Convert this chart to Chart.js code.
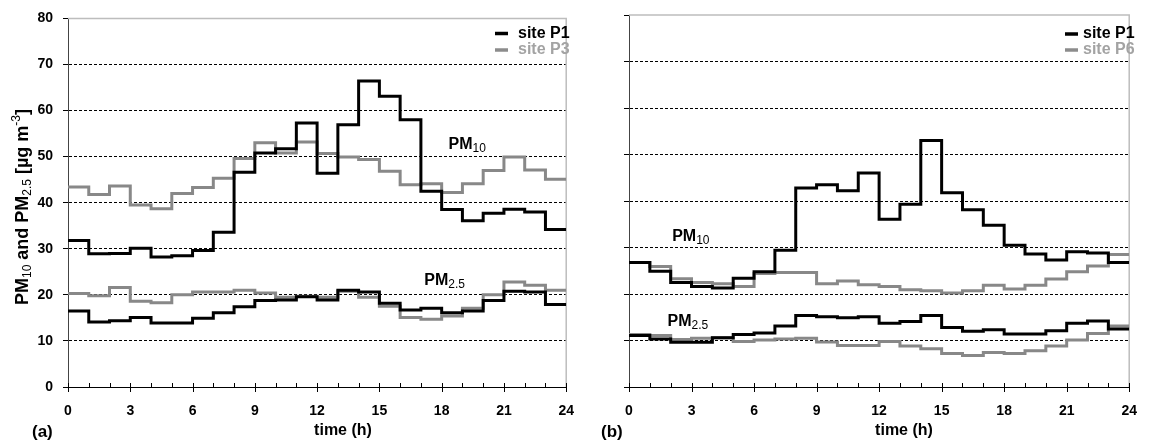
<!DOCTYPE html>
<html>
<head>
<meta charset="utf-8">
<script src="https://cdn.jsdelivr.net/npm/chart.js@4.4.0/dist/chart.umd.min.js"></script>
<style>
  body { margin: 0; background: #fff; width: 1153px; height: 445px; overflow: hidden; position: relative; }
  canvas { position: absolute; top: 0; }
  #chartA { left: 0; }
  #chartB { left: 590px; }
</style>
</head>
<body>
<canvas id="chartA" width="590" height="445"></canvas>
<canvas id="chartB" width="563" height="445"></canvas>
<script>
// hour marks (0..24) and tick values
const hours = [0, 1, 2, 3, 4, 5, 6, 7, 8, 9, 10, 11, 12, 13, 14, 15, 16, 17, 18, 19, 20, 21, 22, 23, 24];
const xTickLabels = [0, 3, 6, 9, 12, 15, 18, 21, 24];
const yTickLabels = [0, 10, 20, 30, 40, 50, 60, 70, 80];

// panel (a): site P1 vs site P3, hourly means [ug m-3]
const pm10P1a = [31.8, 28.9, 29.0, 30.1, 28.2, 28.5, 29.6, 33.6, 46.6, 50.8, 51.7, 57.3, 46.4, 56.9, 66.4, 63.1, 58.0, 42.5, 38.5, 36.1, 37.7, 38.6, 38.0, 34.2];
const pm10P3a = [43.4, 41.8, 43.6, 39.5, 38.7, 42.0, 43.3, 45.3, 49.6, 53.0, 50.8, 53.2, 50.7, 49.9, 49.4, 46.8, 43.9, 44.1, 42.2, 44.1, 47.0, 49.9, 47.1, 45.1];
const pm25P1a = [16.5, 14.1, 14.4, 15.1, 13.9, 13.9, 14.9, 16.1, 17.4, 18.8, 18.9, 19.6, 18.9, 21.0, 20.6, 18.2, 16.7, 17.1, 16.1, 16.5, 18.8, 20.8, 20.6, 17.9];
const pm25P3a = [20.3, 19.8, 21.6, 18.6, 18.3, 20.0, 20.6, 20.6, 21.0, 20.4, 19.5, 19.7, 19.5, 20.8, 19.5, 17.5, 15.1, 14.7, 15.4, 17.1, 20.0, 22.8, 22.1, 21.0];

// panel (b): site P1 vs site P6
const pm10P1b = [26.8, 24.9, 22.5, 21.6, 21.3, 23.4, 24.8, 29.4, 42.8, 43.5, 42.2, 46.0, 36.1, 39.3, 53.0, 41.8, 38.1, 34.8, 30.5, 28.6, 27.3, 29.1, 28.8, 26.8];
const pm10P6b = [26.8, 25.9, 23.3, 22.5, 22.2, 21.6, 24.4, 24.6, 24.6, 22.2, 22.8, 22.0, 21.6, 20.9, 20.7, 20.2, 20.7, 21.9, 21.1, 21.9, 23.2, 24.8, 26.0, 28.5];
const pm25P1b = [11.1, 10.3, 9.6, 9.6, 10.6, 11.3, 11.6, 13.1, 15.4, 15.1, 14.9, 15.1, 13.7, 14.1, 15.4, 12.8, 12.0, 12.3, 11.4, 11.4, 12.1, 13.7, 14.2, 12.5];
const pm25P6b = [11.3, 11.1, 10.2, 10.5, 10.6, 9.8, 10.1, 10.3, 10.5, 9.7, 8.9, 8.9, 9.8, 8.8, 8.2, 7.2, 6.8, 7.4, 7.2, 7.8, 8.8, 10.1, 11.5, 13.1];

const FONT = "'Liberation Sans', Arial, sans-serif";
const BLACK = '#000000';
const GREY = '#888888';

Chart.defaults.font.family = FONT;
Chart.defaults.font.weight = 'bold';
Chart.defaults.font.size = 14;
Chart.defaults.color = '#000';

// each hourly mean is held over its hour, so repeat the last value at 24 h
function stepPoints(vals) {
  return hours.map((h, i) => ({ x: h, y: vals[Math.min(i, vals.length - 1)] }));
}

function lineSet(vals, color, order) {
  return {
    data: stepPoints(vals),
    borderColor: color,
    borderWidth: 3,
    stepped: true,
    pointRadius: 0,
    fill: false,
    order: order
  };
}

// text with sub/superscripts, drawn left to right from (x, y) baseline
function drawRich(ctx, x, y, parts) {
  let cx = x;
  parts.forEach(p => {
    ctx.font = p.font;
    ctx.fillText(p.t, cx, y + (p.dy || 0));
    cx += ctx.measureText(p.t).width;
  });
}

function richWidth(ctx, parts) {
  let w = 0;
  parts.forEach(p => { ctx.font = p.font; w += ctx.measureText(p.t).width; });
  return w;
}

const bigB = 'bold 16px ' + FONT;
const subF = '12px ' + FONT;

const panelDecor = {
  id: 'panelDecor',
  beforeDatasetsDraw(chart, args, o) {
    const { ctx, chartArea: a } = chart;
    // grey frame on top and right
    ctx.save();
    ctx.strokeStyle = '#bdbdbd';
    ctx.lineWidth = 1.5;
    ctx.beginPath();
    ctx.moveTo(a.left, a.top);
    ctx.lineTo(a.right, a.top);
    ctx.lineTo(a.right, a.bottom);
    ctx.stroke();
    ctx.restore();
  },
  afterDraw(chart, args, o) {
    const { ctx, chartArea: a, scales } = chart;
    const sx = scales.x, sy = scales.y;
    ctx.save();
    // hourly ticks on the time axis
    ctx.strokeStyle = '#000';
    ctx.lineWidth = 1;
    hours.forEach(h => {
      const px = Math.round(sx.getPixelForValue(h)) + 0.5;
      ctx.beginPath();
      ctx.moveTo(px, a.bottom - 4);
      ctx.lineTo(px, a.bottom + (h % 3 === 0 ? 5 : 0));
      ctx.stroke();
    });

    // legend
    ctx.textBaseline = 'alphabetic';
    ctx.textAlign = 'left';
    o.legend.forEach(l => {
      ctx.strokeStyle = l.line;
      ctx.lineWidth = 3.5;
      ctx.beginPath();
      ctx.moveTo(o.legendX, l.ly);
      ctx.lineTo(o.legendX + 13, l.ly);
      ctx.stroke();
      ctx.fillStyle = l.color;
      ctx.font = bigB;
      ctx.fillText(l.text, o.legendTextX, l.ty);
    });

    // PM10 / PM2.5 labels at data coordinates
    ctx.fillStyle = '#000';
    o.labels.forEach(lb => {
      drawRich(ctx, sx.getPixelForValue(lb.x), sy.getPixelForValue(lb.y), [
        { t: 'PM', font: bigB },
        { t: lb.sub, font: subF, dy: 3 }
      ]);
    });

    // axis title and panel letter
    ctx.font = bigB;
    ctx.textAlign = 'center';
    ctx.fillText('time (h)', o.timeX, 435);
    ctx.textAlign = 'left';
    ctx.font = 'bold 17px ' + FONT;
    ctx.fillText(o.panel, o.panelX, 437);

    if (o.yTitle) {
      const main = 'bold 18px ' + FONT;
      const sm = '12px ' + FONT;
      const parts = [
        { t: 'PM', font: main },
        { t: '10', font: sm, dy: 3 },
        { t: ' and PM', font: main },
        { t: '2.5', font: sm, dy: 3 },
        { t: ' [\u00b5g m', font: main },
        { t: '-3', font: sm, dy: -8 },
        { t: ']', font: main }
      ];
      const w = richWidth(ctx, parts);
      ctx.translate(28, 207);
      ctx.rotate(-Math.PI / 2);
      drawRich(ctx, -w / 2, 0, parts);
    }
    ctx.restore();
  }
};

function makePanel(id, yWidth, padRight, showYLabels, sets, decor) {
  return new Chart(document.getElementById(id), {
    type: 'line',
    data: { datasets: sets },
    options: {
      responsive: false,
      animation: false,
      devicePixelRatio: 1,
      layout: { padding: { left: 0, top: 15, right: padRight, bottom: 0 } },
      plugins: {
        legend: { display: false },
        tooltip: { enabled: false },
        panelDecor: decor
      },
      scales: {
        x: {
          type: 'linear',
          min: 0,
          max: 24,
          afterBuildTicks: s => { s.ticks = xTickLabels.map(v => ({ value: v })); },
          ticks: { padding: 16, autoSkip: false, maxRotation: 0, font: { size: 14, weight: 'bold' } },
          grid: { display: false, drawTicks: false },
          border: { display: true, color: '#000', width: 1 },
          afterFit: s => { s.height = 58; }
        },
        y: {
          min: 0,
          max: 80,
          afterBuildTicks: s => { s.ticks = yTickLabels.map(v => ({ value: v })); },
          ticks: { display: showYLabels, padding: 10, font: { size: 14, weight: 'bold' } },
          grid: {
            color: c => (c.tick && (c.tick.value === 0 || c.tick.value === 80)) ? 'rgba(0,0,0,0)' : '#000',
            lineWidth: 1,
            drawTicks: true,
            tickLength: 5,
            tickColor: '#000'
          },
          border: { display: true, color: '#444', width: 1, dash: [3, 2] },
          afterFit: s => { s.width = yWidth; }
        }
      }
    },
    plugins: [panelDecor]
  });
}

makePanel('chartA', 68, 13, true, [
  lineSet(pm10P1a, BLACK, 0),
  lineSet(pm25P1a, BLACK, 0),
  lineSet(pm10P3a, GREY, 1),
  lineSet(pm25P3a, GREY, 1)
], {
  legend: [
    { text: 'site P1', color: '#000', line: '#000', ly: 33.5, ty: 38 },
    { text: 'site P3', color: '#a3a3a3', line: '#8c8c8c', ly: 50, ty: 54 }
  ],
  legendX: 495,
  legendTextX: 518,
  labels: [
    { x: 18.33, y: 51.7, sub: '10' },
    { x: 17.16, y: 22.2, sub: '2.5' }
  ],
  timeX: 343,
  panel: '(a)',
  panelX: 32,
  yTitle: true
});

makePanel('chartB', 39, 14, false, [
  lineSet(pm10P1b, BLACK, 0),
  lineSet(pm25P1b, BLACK, 0),
  lineSet(pm10P6b, GREY, 1),
  lineSet(pm25P6b, GREY, 1)
], {
  legend: [
    { text: 'site P1', color: '#000', line: '#000', ly: 34, ty: 38 },
    { text: 'site P6', color: '#a3a3a3', line: '#8c8c8c', ly: 50, ty: 54 }
  ],
  legendX: 475,
  legendTextX: 493,
  labels: [
    { x: 2.07, y: 31.4, sub: '10' },
    { x: 1.85, y: 13.1, sub: '2.5' }
  ],
  timeX: 314,
  panel: '(b)',
  panelX: 11,
  yTitle: false
});
</script>
</body>
</html>
